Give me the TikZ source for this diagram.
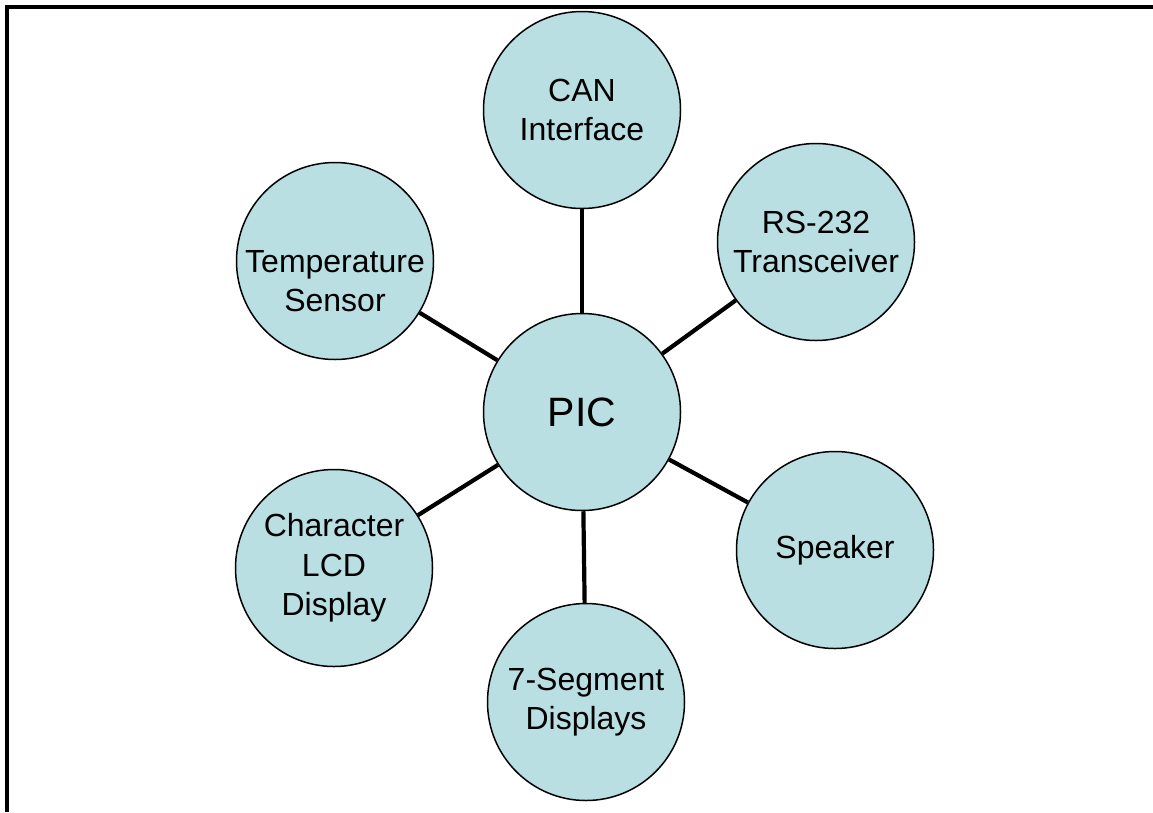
\documentclass[tikz,border=0pt]{standalone}
\usepackage{fontspec}
\setmainfont{Liberation Sans}
\definecolor{bubble}{RGB}{185,223,227}
\begin{document}
\begin{tikzpicture}[x=1pt,y=-1pt,
  bub/.style={circle,draw=black,line width=1.5pt,fill=bubble,minimum size=197pt,inner sep=0pt,align=center,font=\fontsize{32}{39.5}\selectfont},
  lbl/.style={align=center,inner sep=0pt,font=\fontsize{32}{39.5}\selectfont},
  link/.style={line width=4.2pt,black}]
\useasboundingbox (0,0) rectangle (1153,812);
\draw[line width=3.2pt] (7,812) -- (7,7) -- (1153,7);
\node[bub,font=\fontsize{41}{46}\selectfont] (pic) at (582,412) {PIC};
\node[bub] (can) at (582,110) {CAN\\Interface};
\node[bub] (temp) at (335,261) {};
\path (temp.center) ++(0,20) node[lbl] (tempT) {Temperature\\Sensor};
\node[bub] (rs) at (816,242) {RS-232\\Transceiver};
\node[bub] (spk) at (835,550) {Speaker};
\node[bub] (lcd) at (334,568) {Character\\LCD\\Display};
\node[bub] (seg) at (586,702) {7-Segment\\Displays};
\foreach \n in {can,temp,rs,spk,lcd,seg}
  \draw[link] (pic) -- (\n);
\end{tikzpicture}
\end{document}
